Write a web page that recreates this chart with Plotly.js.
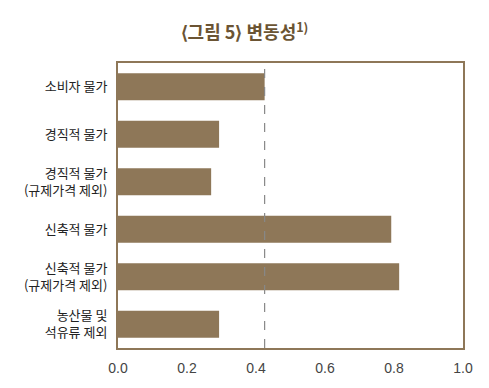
<!DOCTYPE html>
<html>
<head>
<meta charset="utf-8">
<script src="https://cdn.plot.ly/plotly-3.0.1.min.js"></script>
<style>html,body{margin:0;padding:0;background:#fff;}#chart{width:489px;height:388px;}</style>
</head>
<body>
<div id="chart"></div>
<script>
const categories = ["소비자 물가", "경직적 물가", "경직적 물가<br>(규제가격 제외)", "신축적 물가", "신축적 물가<br>(규제가격 제외)", "농산물 및<br>석유류 제외"];
const values = [0.425, 0.293, 0.27, 0.792, 0.815, 0.293];
const refLine = 0.425;
const xTicks = [0, 0.2, 0.4, 0.6, 0.8, 1.0];
const xTickText = ["0.0", "0.2", "0.4", "0.6", "0.8", "1.0"];

const brown = "#8E7758";
const font = "'Noto Sans CJK KR', 'Noto Sans', sans-serif";

Plotly.newPlot("chart", [{
  type: "bar",
  orientation: "h",
  y: categories,
  x: values,
  width: 0.57,
  marker: {color: brown, line: {width: 0}},
  hoverinfo: "none"
}], {
  width: 489, height: 388,
  margin: {l: 118, r: 26, t: 63, b: 40},
  paper_bgcolor: "#fff", plot_bgcolor: "#fff",
  title: {text: "⟨그림 5⟩ 변동성<sup>1)</sup>", x: 0.5, xanchor: "center", y: 0.915, yanchor: "middle",
          font: {family: font, size: 18, color: "#6B5433", weight: "bold"}},
  xaxis: {range: [0, 1.0], tickvals: xTicks, ticktext: xTickText, showgrid: false, zeroline: false,
          showline: true, mirror: true, linecolor: brown, linewidth: 2, ticks: "", ticklabelstandoff: 6,
          tickfont: {family: "'Liberation Sans', Arial, sans-serif", size: 14, color: "#444"}},
  yaxis: {autorange: "reversed", showgrid: false, zeroline: false, showline: true, mirror: true,
          linecolor: brown, linewidth: 2, ticks: "", ticklabelstandoff: 6,
          tickfont: {family: font, size: 13, color: "#222"}},
  shapes: [{type: "line", xref: "x", yref: "paper", x0: refLine, x1: refLine, y0: 0, y1: 1,
            line: {color: "#888", width: 1.2, dash: "dash"}}],
  showlegend: false
}, {displayModeBar: false, staticPlot: true});
</script>
</body>
</html>
